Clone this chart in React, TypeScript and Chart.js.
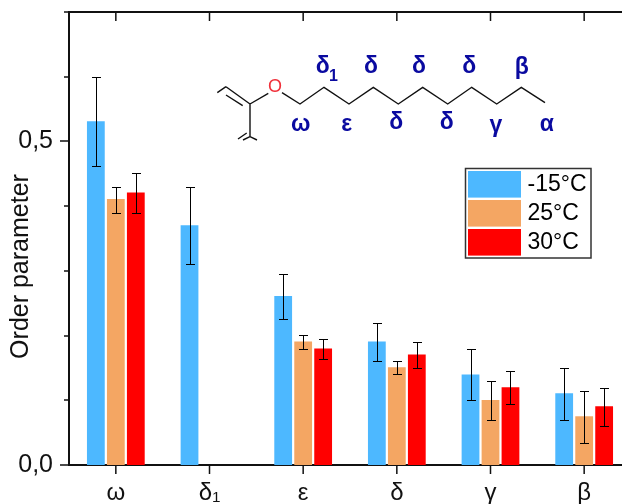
import React, { useEffect, useRef } from "react";
import { Chart, registerables } from "chart.js";

Chart.register(...registerables);

const categories = ["ω", "δ₁", "ε", "δ", "γ", "β"];
const seriesNames = ["-15°C", "25°C", "30°C"];
const seriesColors = ["#4DB8FF", "#F4A663", "#FF0000"];

const coldValues = [0.531, 0.3706, 0.261, 0.191, 0.14, 0.111];
const midValues = [0.411, null, 0.191, 0.151, 0.1005, 0.0753];
const hotValues = [0.421, null, 0.18, 0.1707, 0.12, 0.0907];

const coldHigh = [0.599, 0.43, 0.295, 0.2195, 0.18, 0.15];
const coldLow = [0.4626, 0.31, 0.225, 0.16, 0.1, 0.07];
const midHigh = [0.43, null, 0.2005, 0.16, 0.13, 0.115];
const midLow = [0.39, null, 0.18, 0.14, 0.07, 0.0346];
const hotHigh = [0.4505, null, 0.195, 0.19, 0.145, 0.1197];
const hotLow = [0.39, null, 0.1645, 0.1495, 0.095, 0.06];

const errHigh = [coldHigh, midHigh, hotHigh];
const errLow = [coldLow, midLow, hotLow];

const FONT = '"Liberation Sans", Arial, sans-serif';
const NAVY = "#0A0AA0";

// Inset: molecule sketch
const chainPath: [number, number][] = [
  [282, 92.7], [300, 104], [324, 87.3], [349, 104], [373.3, 87.3], [398.3, 104],
  [422.7, 87.3], [447.7, 104], [471.7, 87.3], [496.7, 104], [521.3, 87.3], [545, 102.7],
];
const ringBonds: [number, number, number, number][] = [
  [268.3, 93.3, 250, 104],
  [217.3, 92.7, 226, 86.7],
  [226, 86.7, 250, 104],
  [226, 95, 242.7, 105.7],
  [250, 104, 250, 136.7],
  [250, 136.7, 243, 140],
  [246.7, 133, 238, 139],
  [250, 136.7, 257, 140],
];
const insetLabels: [string, number, number][] = [
  ["δ", 322.7, 66.7], ["δ", 371, 66.7], ["δ", 419, 66.7], ["δ", 469.3, 66.7], ["β", 521.7, 67.5],
  ["ω", 300.7, 124.5], ["ε", 346.7, 124.5], ["δ", 396.3, 123], ["δ", 446.7, 123], ["γ", 496, 126], ["α", 546.7, 124.5],
];

const decorations = {
  id: "decorations",
  afterDraw(chart: any) {
    const { ctx, chartArea } = chart;
    const x = chart.scales.x;
    const y = chart.scales.y;
    ctx.save();
    ctx.strokeStyle = "#111";
    // top axis line + inward ticks
    ctx.lineWidth = 2;
    ctx.beginPath();
    ctx.moveTo(chartArea.left - 1, chartArea.top);
    ctx.lineTo(chartArea.right, chartArea.top);
    ctx.stroke();
    ctx.lineWidth = 1.5;
    ctx.beginPath();
    x.ticks.forEach((_: any, i: number) => {
      const px = x.getPixelForTick(i);
      ctx.moveTo(px, chartArea.top);
      ctx.lineTo(px, chartArea.top + 9);
      ctx.moveTo(px, chartArea.bottom);
      ctx.lineTo(px, chartArea.bottom + 9);
    });
    y.ticks.forEach((t: any) => {
      const py = Math.round(y.getPixelForValue(t.value));
      const major = Math.abs(t.value - 0.5) < 1e-6 || Math.abs(t.value) < 1e-6;
      ctx.moveTo(chartArea.left, py);
      ctx.lineTo(chartArea.left - (major ? 9 : 5), py);
    });
    ctx.stroke();

    // error bars
    ctx.strokeStyle = "#000";
    ctx.lineWidth = 1;
    errHigh.forEach((highs, d) => {
      const meta = chart.getDatasetMeta(d);
      highs.forEach((hi, i) => {
        const lo = errLow[d][i];
        if (hi == null || lo == null) return;
        const cx = Math.round(meta.data[i].x) + 0.5;
        const top = Math.round(y.getPixelForValue(hi)) + 0.5;
        const bot = Math.round(y.getPixelForValue(lo)) + 0.5;
        ctx.beginPath();
        ctx.moveTo(cx, top);
        ctx.lineTo(cx, bot);
        ctx.moveTo(cx - 4.5, top);
        ctx.lineTo(cx + 4.5, top);
        ctx.moveTo(cx - 4.5, bot);
        ctx.lineTo(cx + 4.5, bot);
        ctx.stroke();
      });
    });

    // y axis title
    ctx.save();
    ctx.translate(21, 266.5);
    ctx.rotate(-Math.PI / 2);
    ctx.fillStyle = "#111";
    ctx.font = `25px ${FONT}`;
    ctx.textAlign = "center";
    ctx.textBaseline = "middle";
    ctx.fillText("Order parameter", 0, 0);
    ctx.restore();

    // legend
    ctx.strokeStyle = "#333";
    ctx.lineWidth = 1.5;
    ctx.strokeRect(465.5, 168.5, 125.5, 89.5);
    const rows = [171, 200, 229];
    seriesNames.forEach((name, i) => {
      ctx.fillStyle = seriesColors[i];
      ctx.fillRect(468, rows[i], 53, 26.6);
      ctx.fillStyle = "#000";
      ctx.font = `23px ${FONT}`;
      ctx.textAlign = "left";
      ctx.textBaseline = "middle";
      ctx.fillText(name, 527.5, rows[i] + 14);
    });

    // molecule
    ctx.strokeStyle = "#111";
    ctx.lineWidth = 1.4;
    ctx.beginPath();
    chainPath.forEach(([px, py], i) => (i ? ctx.lineTo(px, py) : ctx.moveTo(px, py)));
    ringBonds.forEach(([a, b, c, d]) => {
      ctx.moveTo(a, b);
      ctx.lineTo(c, d);
    });
    ctx.stroke();
    ctx.fillStyle = "#F0303A";
    ctx.font = `18px ${FONT}`;
    ctx.textAlign = "center";
    ctx.textBaseline = "middle";
    ctx.fillText("O", 275, 87.5);
    ctx.fillStyle = NAVY;
    ctx.font = `bold 23px ${FONT}`;
    insetLabels.forEach(([s, px, py]) => ctx.fillText(s, px, py));
    ctx.font = `bold 16px ${FONT}`;
    ctx.fillText("1", 333.5, 76.5);
    ctx.restore();
  },
};

export default function App() {
  const ref = useRef<HTMLCanvasElement | null>(null);
  useEffect(() => {
    const chart = new Chart(ref.current as HTMLCanvasElement, {
      type: "bar",
      data: {
        labels: categories,
        datasets: [coldValues, midValues, hotValues].map((data, i) => ({
          label: seriesNames[i],
          data,
          backgroundColor: seriesColors[i],
          categoryPercentage: 0.64,
          barPercentage: 0.89,
        })),
      } as any,
      options: {
        responsive: false,
        animation: false,
        devicePixelRatio: 1,
        layout: { padding: { top: 12, right: 9, left: 0, bottom: 0 } },
        plugins: { legend: { display: false }, tooltip: { enabled: false } },
        scales: {
          x: {
            grid: { display: false, drawTicks: false },
            border: { color: "#111", width: 2 },
            afterFit: (s: any) => {
              s.height = 39;
              s.paddingLeft = 0;
              s.paddingRight = 0;
            },
            ticks: {
              color: "#111",
              font: { family: FONT, size: 24 },
              padding: 14,
              maxRotation: 0,
              autoSkip: false,
            },
          },
          y: {
            min: 0,
            max: 0.7,
            grid: { display: false, drawTicks: false },
            border: { color: "#111", width: 2 },
            afterFit: (s: any) => {
              s.width = 69;
              s.paddingTop = 0;
              s.paddingBottom = 0;
            },
            ticks: {
              stepSize: 0.1,
              autoSkip: false,
              color: "#111",
              padding: 16,
              font: { family: FONT, size: 25 },
              callback: (v: any) =>
                Math.abs(v) < 1e-6 ? "0,0" : Math.abs(v - 0.5) < 1e-6 ? "0,5" : "",
            },
          },
        },
      },
      plugins: [decorations],
    } as any);
    return () => chart.destroy();
  }, []);
  return (
    <div style={{ position: "fixed", left: 0, top: 0, width: 622, height: 504, overflow: "hidden", background: "#fff" }}>
      <canvas ref={ref} width={640} height={504} style={{ display: "block" }} />
    </div>
  );
}
